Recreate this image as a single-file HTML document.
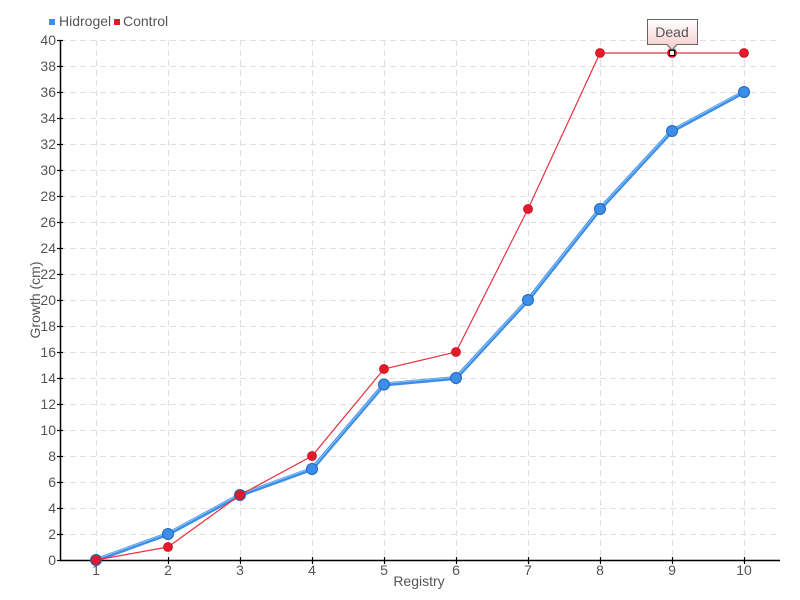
<!DOCTYPE html>
<html><head><meta charset="utf-8"><style>
html,body{margin:0;padding:0;background:#fff;}
svg{display:block;font-family:"Liberation Sans Narrow","Liberation Sans",sans-serif;}
</style></head><body>
<svg width="800" height="600" viewBox="0 0 800 600" xmlns="http://www.w3.org/2000/svg">
<defs>
<linearGradient id="tg" x1="0" y1="0" x2="0" y2="1">
<stop offset="0" stop-color="#ffffff"/><stop offset="1" stop-color="#f7c9c9"/>
</linearGradient>
</defs>
<rect width="800" height="600" fill="#fff"/>
<g stroke="#e0e0e0" stroke-width="1" stroke-dasharray="6,4" fill="none">
<line x1="60" y1="40.5" x2="780" y2="40.5"/>
<line x1="60" y1="66.5" x2="780" y2="66.5"/>
<line x1="60" y1="92.5" x2="780" y2="92.5"/>
<line x1="60" y1="118.5" x2="780" y2="118.5"/>
<line x1="60" y1="144.5" x2="780" y2="144.5"/>
<line x1="60" y1="170.5" x2="780" y2="170.5"/>
<line x1="60" y1="196.5" x2="780" y2="196.5"/>
<line x1="60" y1="222.5" x2="780" y2="222.5"/>
<line x1="60" y1="248.5" x2="780" y2="248.5"/>
<line x1="60" y1="274.5" x2="780" y2="274.5"/>
<line x1="60" y1="300.5" x2="780" y2="300.5"/>
<line x1="60" y1="326.5" x2="780" y2="326.5"/>
<line x1="60" y1="352.5" x2="780" y2="352.5"/>
<line x1="60" y1="378.5" x2="780" y2="378.5"/>
<line x1="60" y1="404.5" x2="780" y2="404.5"/>
<line x1="60" y1="430.5" x2="780" y2="430.5"/>
<line x1="60" y1="456.5" x2="780" y2="456.5"/>
<line x1="60" y1="482.5" x2="780" y2="482.5"/>
<line x1="60" y1="508.5" x2="780" y2="508.5"/>
<line x1="60" y1="534.5" x2="780" y2="534.5"/>
<line x1="96.5" y1="40" x2="96.5" y2="560"/>
<line x1="168.5" y1="40" x2="168.5" y2="560"/>
<line x1="240.5" y1="40" x2="240.5" y2="560"/>
<line x1="312.5" y1="40" x2="312.5" y2="560"/>
<line x1="384.5" y1="40" x2="384.5" y2="560"/>
<line x1="456.5" y1="40" x2="456.5" y2="560"/>
<line x1="528.5" y1="40" x2="528.5" y2="560"/>
<line x1="600.5" y1="40" x2="600.5" y2="560"/>
<line x1="672.5" y1="40" x2="672.5" y2="560"/>
<line x1="744.5" y1="40" x2="744.5" y2="560"/>
</g>
<g stroke="#000" stroke-width="1.5" fill="none">
<line x1="60.5" y1="40" x2="60.5" y2="561"/>
<line x1="60" y1="560.5" x2="780" y2="560.5"/>
</g>
<g stroke="#000" stroke-width="1.2">
<line x1="57" y1="40.5" x2="63" y2="40.5"/><line x1="57" y1="66.5" x2="63" y2="66.5"/><line x1="57" y1="92.5" x2="63" y2="92.5"/><line x1="57" y1="118.5" x2="63" y2="118.5"/><line x1="57" y1="144.5" x2="63" y2="144.5"/><line x1="57" y1="170.5" x2="63" y2="170.5"/><line x1="57" y1="196.5" x2="63" y2="196.5"/><line x1="57" y1="222.5" x2="63" y2="222.5"/><line x1="57" y1="248.5" x2="63" y2="248.5"/><line x1="57" y1="274.5" x2="63" y2="274.5"/><line x1="57" y1="300.5" x2="63" y2="300.5"/><line x1="57" y1="326.5" x2="63" y2="326.5"/><line x1="57" y1="352.5" x2="63" y2="352.5"/><line x1="57" y1="378.5" x2="63" y2="378.5"/><line x1="57" y1="404.5" x2="63" y2="404.5"/><line x1="57" y1="430.5" x2="63" y2="430.5"/><line x1="57" y1="456.5" x2="63" y2="456.5"/><line x1="57" y1="482.5" x2="63" y2="482.5"/><line x1="57" y1="508.5" x2="63" y2="508.5"/><line x1="57" y1="534.5" x2="63" y2="534.5"/><line x1="57" y1="560.5" x2="63" y2="560.5"/>
<line x1="96.5" y1="557" x2="96.5" y2="564"/><line x1="168.5" y1="557" x2="168.5" y2="564"/><line x1="240.5" y1="557" x2="240.5" y2="564"/><line x1="312.5" y1="557" x2="312.5" y2="564"/><line x1="384.5" y1="557" x2="384.5" y2="564"/><line x1="456.5" y1="557" x2="456.5" y2="564"/><line x1="528.5" y1="557" x2="528.5" y2="564"/><line x1="600.5" y1="557" x2="600.5" y2="564"/><line x1="672.5" y1="557" x2="672.5" y2="564"/><line x1="744.5" y1="557" x2="744.5" y2="564"/>
</g>
<g fill="#555" font-size="14" text-anchor="end">
<text x="56" y="45">40</text><text x="56" y="71">38</text><text x="56" y="97">36</text><text x="56" y="123">34</text><text x="56" y="149">32</text><text x="56" y="175">30</text><text x="56" y="201">28</text><text x="56" y="227">26</text><text x="56" y="253">24</text><text x="56" y="279">22</text><text x="56" y="305">20</text><text x="56" y="331">18</text><text x="56" y="357">16</text><text x="56" y="383">14</text><text x="56" y="409">12</text><text x="56" y="435">10</text><text x="56" y="461">8</text><text x="56" y="487">6</text><text x="56" y="513">4</text><text x="56" y="539">2</text><text x="56" y="565">0</text>
</g>
<g fill="#555" font-size="14" text-anchor="middle">
<text x="96" y="575">1</text><text x="168" y="575">2</text><text x="240" y="575">3</text><text x="312" y="575">4</text><text x="384" y="575">5</text><text x="456" y="575">6</text><text x="528" y="575">7</text><text x="600" y="575">8</text><text x="672" y="575">9</text><text x="744" y="575">10</text>
<text x="419" y="586">Registry</text>
<text transform="translate(40,300) rotate(-90)">Growth (cm)</text>
</g>
<!-- legend -->
<rect x="49" y="19" width="6" height="6" fill="#3d8ee8"/>
<text x="59" y="26" font-size="14" fill="#555">Hidrogel</text>
<rect x="114" y="19" width="6" height="6" fill="#e41a2c"/>
<text x="123" y="26" font-size="14" fill="#555">Control</text>
<!-- Hidrogel line -->
<polyline fill="none" stroke="#3d8ee8" stroke-width="4" stroke-linejoin="round" points="96,560 168,534 240,495 312,469 384,384.5 456,378 528,300 600,209 672,131 744,92"/>
<polyline fill="none" stroke="#8cc2f7" stroke-width="1" stroke-linejoin="round" points="96,559 168,533 240,494 312,468 384,383.5 456,377 528,299 600,208 672,130 744,91"/>
<g fill="#3d8ee8" stroke="#2466b8" stroke-width="1">
<circle cx="96" cy="560" r="5.5"/><circle cx="168" cy="534" r="5.5"/><circle cx="240" cy="495" r="5.5"/><circle cx="312" cy="469" r="5.5"/><circle cx="384" cy="384.5" r="5.5"/><circle cx="456" cy="378" r="5.5"/><circle cx="528" cy="300" r="5.5"/><circle cx="600" cy="209" r="5.5"/><circle cx="672" cy="131" r="5.5"/><circle cx="744" cy="92" r="5.5"/>
</g>
<!-- Control line -->
<polyline fill="none" stroke="#e8303f" stroke-width="1.2" points="96,560 168,547 240,495 312,456 384,369 456,352 528,209 600,53 672,53 744,53"/>
<g fill="#e41a2c" stroke="#c8101f" stroke-width="0.8">
<circle cx="96" cy="560" r="4.5"/><circle cx="168" cy="547" r="4.5"/><circle cx="240" cy="495" r="4.5"/><circle cx="312" cy="456" r="4.5"/><circle cx="384" cy="369" r="4.5"/><circle cx="456" cy="352" r="4.5"/><circle cx="528" cy="209" r="4.5"/><circle cx="600" cy="53" r="4.5"/><circle cx="672" cy="53" r="4.5"/><circle cx="744" cy="53" r="4.5"/>
</g>
<rect x="669.5" y="50.5" width="5" height="5" fill="#fff" stroke="#000" stroke-width="1"/>
<!-- tooltip -->
<path d="M647.5,19.5 H697.5 V44.5 H677 L672,50 L667,44.5 H647.5 Z" fill="url(#tg)" stroke="#666" stroke-width="1"/>
<text x="672" y="37" font-size="14" fill="#555" text-anchor="middle">Dead</text>
</svg>
</body></html>
